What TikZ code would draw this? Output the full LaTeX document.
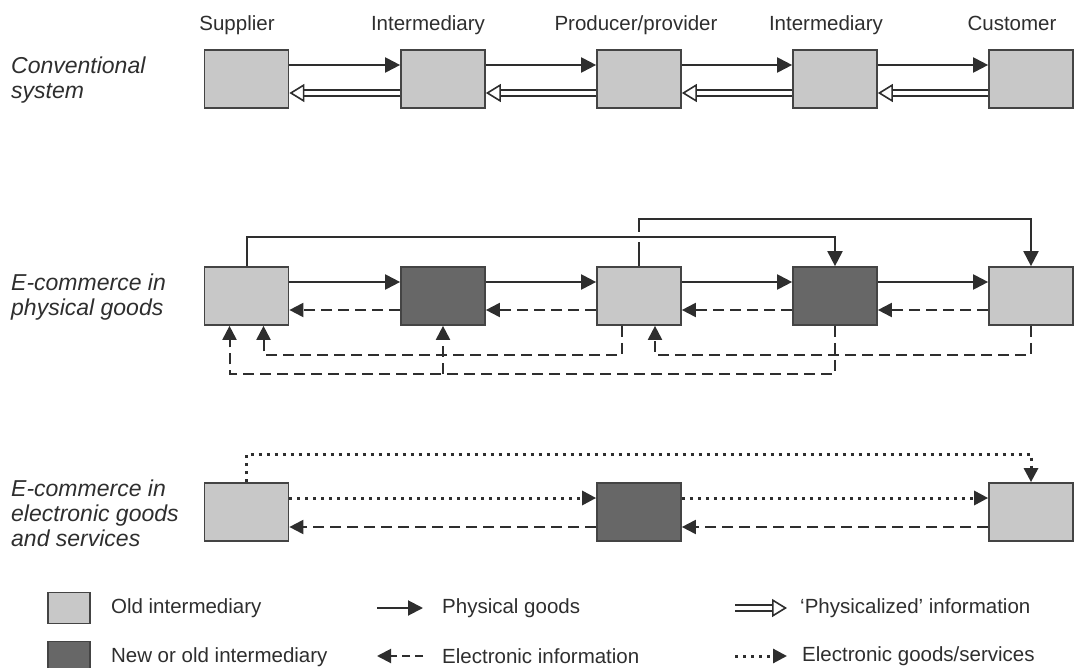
\documentclass[tikz,border=0pt]{standalone}
\usepackage{fontspec}
\setmainfont{Liberation Sans}
\usepackage{tikz}
\usetikzlibrary{arrows.meta, positioning, calc}

\definecolor{oldfill}{HTML}{C8C8C8}
\definecolor{newfill}{HTML}{676767}
\definecolor{edge}{HTML}{444444}
\definecolor{ink}{HTML}{2E2E2E}

\tikzstyle{oldbox} = [rectangle, draw=edge, line width=1.7pt, fill=oldfill, minimum width=84pt, minimum height=58pt, inner sep=0pt]
\tikzstyle{newbox} = [oldbox, fill=newfill]
\tikzstyle{goods} = [draw=ink, line width=2pt, -{Triangle[length=15pt,width=15pt]}]
\tikzstyle{elinfo} = [draw=ink, line width=2pt, dash pattern=on 11pt off 6pt, -{Triangle[length=14pt,width=14pt]}]
\tikzstyle{egoods} = [draw=ink, line width=3pt, dash pattern=on 3pt off 5pt, -{Triangle[length=14pt,width=14pt]}]
\tikzstyle{physinfo} = [draw=ink, line width=1.6pt, double=white, double distance=4pt, -{Triangle[open,fill=white,length=15pt,width=18pt]}]
\tikzstyle{rowlabel} = [anchor=west, align=left, inner sep=0pt, font=\itshape\fontsize{23}{25}\selectfont]
\tikzstyle{keytext} = [anchor=west, inner sep=0pt]

\begin{document}
\begin{tikzpicture}[x=1pt, y=-1pt, font=\fontsize{20.5}{24}\selectfont, text=ink]
        \clip (0,0) rectangle (1076,668);

        % Column headings
        \node[anchor=base] (head_sup) at (237,31) {Supplier};
        \node[anchor=base] (head_int1) at (428,31) {Intermediary};
        \node[anchor=base] (head_prod) at (636,31) {Producer/provider};
        \node[anchor=base] (head_int2) at (826,31) {Intermediary};
        \node[anchor=base] (head_cust) at (1012,31) {Customer};

        % Conventional system
        \node[rowlabel] (conv_label) at (11,80) {Conventional\\system};
        \node[oldbox] (conv_sup) at (246.5,79) {};
        \node[oldbox] (conv_int1) at (443,79) {};
        \node[oldbox] (conv_prod) at (639,79) {};
        \node[oldbox] (conv_int2) at (835,79) {};
        \node[oldbox] (conv_cust) at (1031,79) {};

        \draw[goods] ([yshift=14pt]conv_sup.east) -- ([yshift=14pt]conv_int1.west);
        \draw[goods] ([yshift=14pt]conv_int1.east) -- ([yshift=14pt]conv_prod.west);
        \draw[goods] ([yshift=14pt]conv_prod.east) -- ([yshift=14pt]conv_int2.west);
        \draw[goods] ([yshift=14pt]conv_int2.east) -- ([yshift=14pt]conv_cust.west);
        \draw[physinfo] ([yshift=-14pt]conv_int1.west) -- ([yshift=-14pt]conv_sup.east);
        \draw[physinfo] ([yshift=-14pt]conv_prod.west) -- ([yshift=-14pt]conv_int1.east);
        \draw[physinfo] ([yshift=-14pt]conv_int2.west) -- ([yshift=-14pt]conv_prod.east);
        \draw[physinfo] ([yshift=-14pt]conv_cust.west) -- ([yshift=-14pt]conv_int2.east);

        % E-commerce in physical goods
        \node[rowlabel] (phys_label) at (11,297) {E-commerce in\\physical goods};
        \node[oldbox] (phys_sup) at (246.5,296) {};
        \node[newbox] (phys_int1) at (443,296) {};
        \node[oldbox] (phys_prod) at (639,296) {};
        \node[newbox] (phys_int2) at (835,296) {};
        \node[oldbox] (phys_cust) at (1031,296) {};

        \draw[goods] ([yshift=14pt]phys_sup.east) -- ([yshift=14pt]phys_int1.west);
        \draw[goods] ([yshift=14pt]phys_int1.east) -- ([yshift=14pt]phys_prod.west);
        \draw[goods] ([yshift=14pt]phys_prod.east) -- ([yshift=14pt]phys_int2.west);
        \draw[goods] ([yshift=14pt]phys_int2.east) -- ([yshift=14pt]phys_cust.west);
        \draw[elinfo] ([yshift=-14pt]phys_int1.west) -- ([yshift=-14pt]phys_sup.east);
        \draw[elinfo] ([yshift=-14pt]phys_prod.west) -- ([yshift=-14pt]phys_int1.east);
        \draw[elinfo] ([yshift=-14pt]phys_int2.west) -- ([yshift=-14pt]phys_prod.east);
        \draw[elinfo] ([yshift=-14pt]phys_cust.west) -- ([yshift=-14pt]phys_int2.east);

        % bypass lines over the top
        \draw[goods] (phys_prod.north) -- +(0,-47) -| (phys_cust.north);
        \draw[goods, preaction={draw=white, line width=10pt, -}] (phys_sup.north) -- +(0,-29) -| (phys_int2.north);

        % information back to the supplier side
        \draw[elinfo] ([xshift=-17pt]phys_prod.south) -- +(0,29) -| ([xshift=17pt]phys_sup.south);
        \draw[elinfo] (phys_cust.south) -- +(0,29) -| ([xshift=16pt]phys_prod.south);
        \draw[elinfo] (phys_int2.south) -- +(0,48) coordinate (einfo_low) -| ([xshift=-17pt]phys_sup.south);
        \draw[elinfo] (phys_int1.south |- einfo_low) -- (phys_int1.south);

        % E-commerce in electronic goods and services
        \node[rowlabel] (ecom_label) at (11,513) {E-commerce in\\electronic goods\\and services};
        \node[oldbox] (ecom_sup) at (246.5,512) {};
        \node[newbox] (ecom_prod) at (639,512) {};
        \node[oldbox] (ecom_cust) at (1031,512) {};

        \draw[egoods] (ecom_sup.north) -- +(0,-28) -| (ecom_cust.north);
        \draw[egoods] ([yshift=14pt]ecom_sup.east) -- ([yshift=14pt]ecom_prod.west);
        \draw[egoods] ([yshift=14pt]ecom_prod.east) -- ([yshift=14pt]ecom_cust.west);
        \draw[elinfo] ([yshift=-15pt]ecom_cust.west) -- ([yshift=-15pt]ecom_prod.east);
        \draw[elinfo] ([yshift=-15pt]ecom_prod.west) -- ([yshift=-15pt]ecom_sup.east);

        % Key
        \node[oldbox, minimum width=42pt, minimum height=31pt] (key_old) at (69,608) {};
        \node[newbox, minimum width=42pt, minimum height=31pt] (key_new) at (69,657) {};
        \node[keytext, right=20pt of key_old] (key_old_txt) {Old intermediary};
        \node[keytext, right=20pt of key_new] (key_new_txt) {New or old intermediary};

        \node[keytext] (key_goods_txt) at (442,608) {Physical goods};
        \draw[goods] ([xshift=-65pt]key_goods_txt.west) -- ([xshift=-19pt]key_goods_txt.west);
        \node[keytext] (key_einfo_txt) at (442,656) {Electronic information};
        \draw[elinfo, dash pattern=on 8pt off 5pt] ([xshift=-19pt]key_einfo_txt.west) -- ([xshift=-65pt]key_einfo_txt.west);

        \node[keytext] (key_phys_txt) at (800,608) {‘Physicalized’ information};
        \draw[physinfo] ([xshift=-65pt]key_phys_txt.west) -- ([xshift=-13pt]key_phys_txt.west);
        \node[keytext] (key_egoods_txt) at (802,656) {Electronic goods/services};
        \draw[egoods] ([xshift=-67pt]key_egoods_txt.west) -- ([xshift=-15pt]key_egoods_txt.west);
    \end{tikzpicture}
\end{document}
